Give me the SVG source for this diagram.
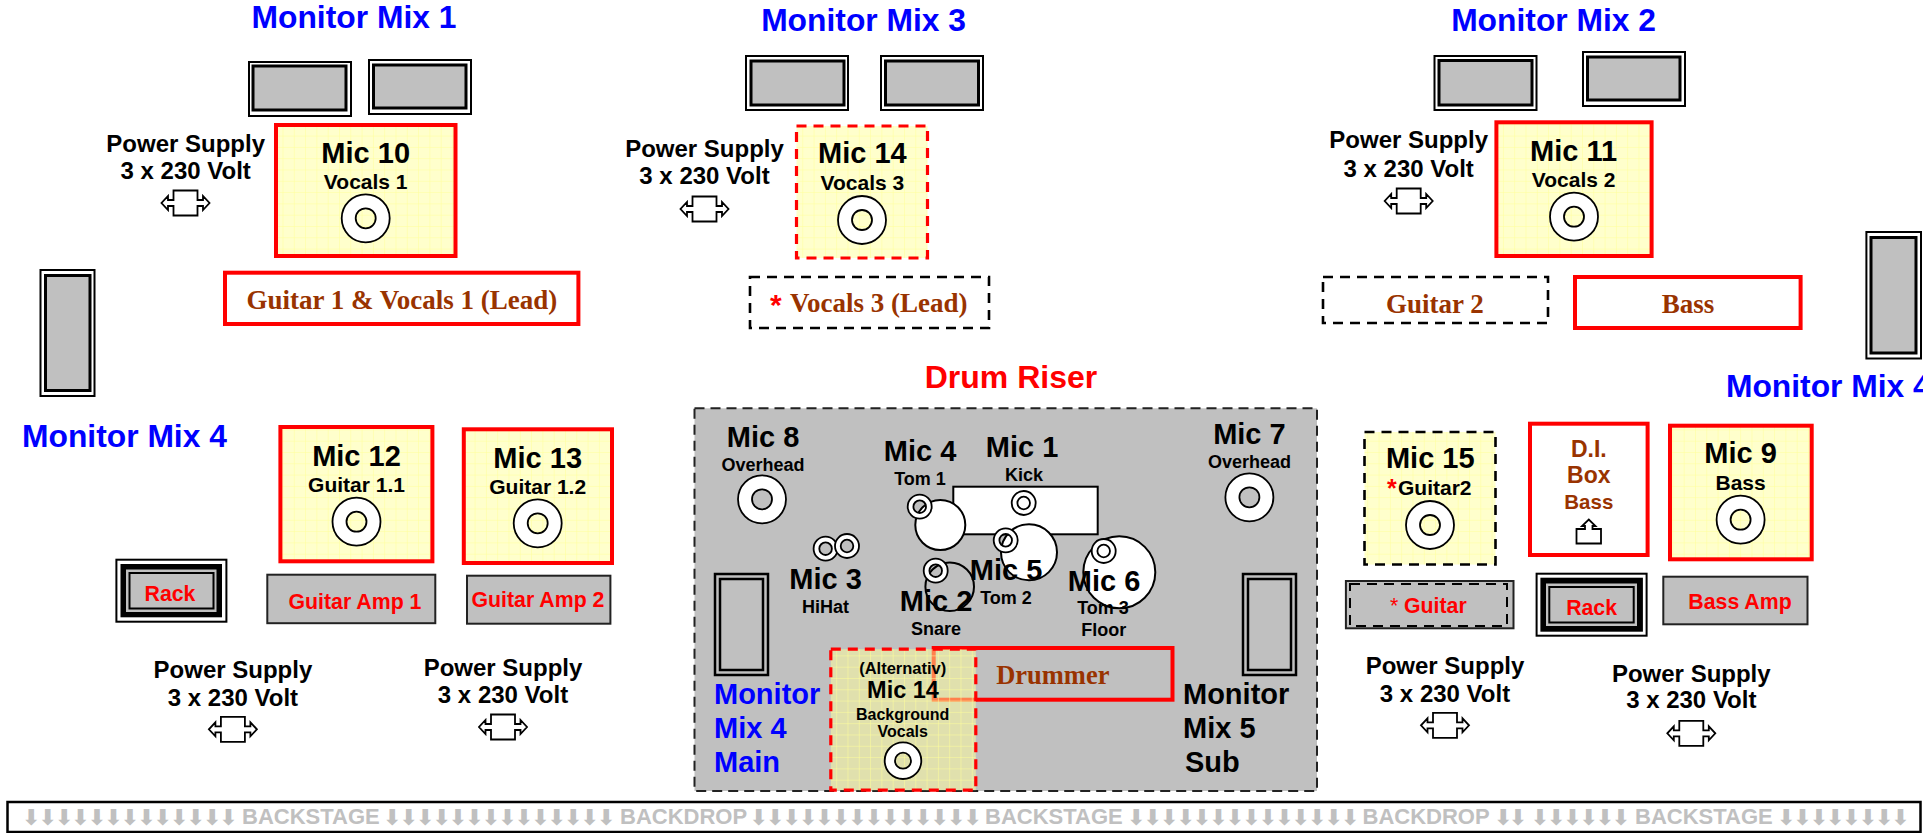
<svg xmlns="http://www.w3.org/2000/svg" xmlns:xlink="http://www.w3.org/1999/xlink" width="1923" height="833" viewBox="0 0 1923 833">
<style>
text{font-family:"Liberation Sans",Arial,sans-serif;font-weight:bold;text-anchor:middle;fill:#000}
.h{font-size:31.800px;fill:#0000ff}
.hr{font-size:32px;fill:#ff0000}
.ml{font-size:29px}
.sub{font-size:21px}
.sm{font-size:18px}
.ps{font-size:24px}
.red{font-size:21.300px;fill:#ff0000}
.st{font-family:"Liberation Serif","Times New Roman",serif;font-size:27px;fill:#993300}
.br{fill:#993300}
.l{text-anchor:start}
.bk{font-size:22px;fill:#c0c0c0;text-anchor:start}
.ar{font-family:"DejaVu Sans",sans-serif;font-size:22px;fill:#c0c0c0;text-anchor:start}
.spk{fill:#fff;stroke:#000;stroke-width:2}
.spi{fill:#c0c0c0;stroke:#000;stroke-width:3}
.ybox{fill:url(#grid);stroke:#ff0000;stroke-width:4}
.ydash{fill:url(#grid);stroke:#ff0000;stroke-width:3.2;stroke-dasharray:10 7}
.kdash{fill:none;stroke:#000;stroke-width:2.6;stroke-dasharray:10 7}
.rbox{fill:#fff;stroke:#ff0000;stroke-width:4}
.amp{fill:#c0c0c0;stroke:#222;stroke-width:2}
.ico{fill:#fff;stroke:#000;stroke-width:1.800}
.drum{fill:#fff;stroke:#000;stroke-width:2}
</style>
<defs>
<pattern id="grid" width="11.3" height="11.3" patternUnits="userSpaceOnUse">
<rect width="11.3" height="11.3" fill="#ffffcc"/>
<path d="M0 0H11.3M0 0V11.3" stroke="#ffff99" stroke-width="1" fill="none"/>
</pattern>
<pattern id="gridO" width="11.3" height="11.3" patternUnits="userSpaceOnUse">
<path d="M0 0H11.3M0 0V11.3" stroke="#ffff99" stroke-width="1" fill="none"/>
</pattern>
<path id="mic" class="ico" fill-rule="evenodd" d="M-24 0A24 24 0 1 0 24 0A24 24 0 1 0 -24 0ZM-10 0A10 10 0 1 0 10 0A10 10 0 1 0 -10 0Z"/>
<path id="mics" class="ico" fill-rule="evenodd" d="M-12 0A12 12 0 1 0 12 0A12 12 0 1 0 -12 0ZM-6.3 0A6.3 6.3 0 1 0 6.3 0A6.3 6.3 0 1 0 -6.3 0Z"/>
<path id="mica" class="ico" fill-rule="evenodd" d="M-18.3 0A18.3 18.3 0 1 0 18.3 0A18.3 18.3 0 1 0 -18.3 0ZM-8 0A8 8 0 1 0 8 0A8 8 0 1 0 -8 0Z"/>
<path id="pw" class="ico" d="M-12 -12.5H12V-3H17.500V-7L24 0L17.500 7V3H12V12.5H-12V3H-17.500V7L-24 0L-17.500 -7V-3H-12Z"/>
</defs>
<rect width="1923" height="833" fill="#fff"/>

<g id="labels-top">
<text class="h" x="354" y="28">Monitor Mix 1</text>
<text class="h" x="863.6" y="30.7">Monitor Mix 3</text>
<text class="h" x="1553.6" y="30.7">Monitor Mix 2</text>
<text class="h l" x="1725.9" y="397.3">Monitor Mix 4</text>
<text class="h l" x="22" y="446.7">Monitor Mix 4</text>
<text class="hr" x="1011" y="388">Drum Riser</text>
</g>

<g id="speakers">
<rect class="spk" x="249" y="62" width="102" height="54"/><rect class="spi" x="253" y="66" width="93" height="44"/>
<rect class="spk" x="369" y="60" width="102" height="54"/><rect class="spi" x="373.5" y="65" width="92.5" height="43"/>
<rect class="spk" x="746" y="56" width="102" height="54"/><rect class="spi" x="751" y="61" width="93" height="44"/>
<rect class="spk" x="881" y="56" width="102" height="54"/><rect class="spi" x="885.500" y="61" width="93" height="44"/>
<rect class="spk" x="1434.500" y="56" width="102" height="54"/><rect class="spi" x="1439" y="60.500" width="93" height="44.500"/>
<rect class="spk" x="1583" y="52" width="102" height="54"/><rect class="spi" x="1587.500" y="57" width="92.500" height="43"/>
<rect class="spk" x="40.500" y="270" width="54" height="126"/><rect class="spi" x="45.500" y="275.500" width="44.500" height="115"/>
<rect class="spk" x="1866.400" y="232" width="54.600" height="126.500"/><rect class="spi" x="1871" y="237.500" width="45" height="115.500"/>
</g>

<g id="power-supplies">
<g><text class="ps" x="185.700" y="152">Power Supply</text><text class="ps" x="185.700" y="179">3 x 230 Volt</text><use href="#pw" x="185.500" y="203"/></g>
<g><text class="ps" x="704.500" y="156.700">Power Supply</text><text class="ps" x="704.500" y="184.300">3 x 230 Volt</text><use href="#pw" x="704.500" y="209"/></g>
<g><text class="ps" x="1408.700" y="148.300">Power Supply</text><text class="ps" x="1408.700" y="176.700">3 x 230 Volt</text><use href="#pw" x="1408.700" y="201"/></g>
<g><text class="ps" x="232.900" y="678.300">Power Supply</text><text class="ps" x="232.900" y="705.700">3 x 230 Volt</text><use href="#pw" x="232.900" y="729.300"/></g>
<g><text class="ps" x="503" y="676">Power Supply</text><text class="ps" x="503" y="702.700">3 x 230 Volt</text><use href="#pw" x="503" y="727"/></g>
<g><text class="ps" x="1445" y="674">Power Supply</text><text class="ps" x="1445" y="701.700">3 x 230 Volt</text><use href="#pw" x="1445" y="725.300"/></g>
<g><text class="ps" x="1691.300" y="681.700">Power Supply</text><text class="ps" x="1691.300" y="708.300">3 x 230 Volt</text><use href="#pw" x="1691.300" y="733.300"/></g>
</g>

<g id="mic10"><rect class="ybox" x="276" y="125" width="179.500" height="131"/><text class="ml" x="365.700" y="162.700">Mic 10</text><text class="sub" x="365.700" y="189">Vocals 1</text><use href="#mic" x="365.700" y="218.300"/></g>
<g id="mic14"><rect class="ydash" x="796.500" y="126" width="131" height="132"/><text class="ml" x="862.400" y="163">Mic 14</text><text class="sub" x="862.400" y="190">Vocals 3</text><use href="#mic" x="862" y="220"/></g>
<g id="mic11"><rect class="ybox" x="1496.400" y="122.300" width="155.200" height="133.700"/><text class="ml" x="1573.600" y="160.700">Mic 11</text><text class="sub" x="1573.600" y="187.300">Vocals 2</text><use href="#mic" x="1574" y="216.700"/></g>
<g id="mic12"><rect class="ybox" x="280.400" y="427" width="152" height="134.300"/><text class="ml" x="356.500" y="465.700">Mic 12</text><text class="sub" x="356.500" y="492.300">Guitar 1.1</text><use href="#mic" x="356.500" y="521.700"/></g>
<g id="mic13"><rect class="ybox" x="463.800" y="429.300" width="148.200" height="133.700"/><text class="ml" x="537.700" y="467.700">Mic 13</text><text class="sub" x="537.700" y="494.300">Guitar 1.2</text><use href="#mic" x="537.700" y="523.300"/></g>
<g id="mic15"><rect x="1364.500" y="432" width="131" height="132.500" fill="url(#grid)"/><rect class="kdash" x="1364.500" y="432" width="131" height="132.500"/><text class="ml" x="1430.300" y="468.300">Mic 15</text><text class="sub l" x="1398" y="495">Guitar2</text><text class="l" x="1387" y="497" style="fill:#ff0000;font-size:25px">*</text><use href="#mic" x="1430" y="525"/></g>
<g id="mic9"><rect class="ybox" x="1670" y="425.700" width="141.700" height="133.600"/><text class="ml" x="1740.600" y="463.300">Mic 9</text><text class="sub" x="1740.600" y="490">Bass</text><use href="#mic" x="1740.600" y="519.700"/></g>

<g id="guitar1-pos"><rect class="rbox" x="225" y="272.700" width="353.400" height="51.300"/><text class="st" x="401.800" y="309">Guitar 1 &amp; Vocals 1 (Lead)</text></g>
<g id="vocals3-pos"><rect class="kdash" x="750" y="277" width="239" height="51"/><text class="st l" x="790" y="311.700">Vocals 3 (Lead)</text><text class="l" x="770" y="315" style="fill:#ff0000;font-size:30px">*</text></g>
<g id="guitar2-pos"><rect class="kdash" x="1323" y="277" width="225" height="46"/><text class="st" x="1434.800" y="312.700">Guitar 2</text></g>
<g id="bass-pos"><rect class="rbox" x="1575" y="277" width="225.600" height="51"/><text class="st" x="1688" y="312.700">Bass</text></g>

<g id="rack-left"><rect class="spk" x="116.400" y="559.700" width="110" height="62"/><rect x="120.500" y="564" width="101.500" height="53.300" fill="#000"/><rect x="126" y="569.500" width="90.500" height="42.500" fill="#c0c0c0"/><rect x="129.500" y="573" width="84" height="35.500" fill="#c0c0c0" stroke="#000" stroke-width="2"/><text class="red" x="170" y="601">Rack</text></g>
<g id="amp1"><rect class="amp" x="267.300" y="574.700" width="168" height="48.500"/><text class="red" x="355" y="609">Guitar Amp 1</text></g>
<g id="amp2"><rect class="amp" x="467" y="575.700" width="143.400" height="48"/><text class="red" x="538" y="607.300">Guitar Amp 2</text></g>

<g id="riser">
<rect x="694.500" y="408.300" width="622.500" height="382.700" fill="#c0c0c0" stroke="#222" stroke-width="2" stroke-dasharray="10 6"/>
<g id="mic8"><text class="ml" x="763" y="446.700">Mic 8</text><text class="sm" x="763" y="471">Overhead</text><use href="#mic" x="762" y="499.300"/></g>
<g id="mic7"><text class="ml" x="1249.400" y="444.300">Mic 7</text><text class="sm" x="1249.400" y="468.300">Overhead</text><use href="#mic" x="1249.400" y="497.300"/></g>
<g id="kick"><rect class="drum" x="953.300" y="486.700" width="144.400" height="47.600"/><use href="#mics" x="1023.700" y="503"/><text class="ml" x="1022" y="456.700">Mic 1</text><text class="sm" x="1024" y="481.300">Kick</text></g>
<g id="tom1"><circle class="drum" cx="940.300" cy="525" r="25"/><use href="#mics" x="919.700" y="506.700"/><text class="ml" x="920" y="460.700">Mic 4</text><text class="sm" x="920" y="484.700">Tom 1</text></g>
<g id="tom2"><circle class="drum" cx="1029" cy="552.300" r="28"/><use href="#mics" x="1005.700" y="540.300"/><text class="ml" x="1006" y="580">Mic 5</text><text class="sm" x="1006" y="604.300">Tom 2</text></g>
<g id="snare"><circle cx="949.700" cy="586.700" r="24.300" fill="none" stroke="#000" stroke-width="2"/><use href="#mics" x="935.700" y="570.700"/><text class="ml" x="936" y="610.700">Mic 2</text><text class="sm" x="936" y="635">Snare</text></g>
<g id="floor"><circle class="drum" cx="1119.300" cy="572.300" r="36"/><use href="#mics" x="1103.700" y="551"/><text class="ml" x="1104" y="590.700">Mic 6</text><text class="sm" x="1103" y="614.300">Tom 3</text><text class="sm" x="1103.800" y="636">Floor</text></g>
<g id="hihat"><use href="#mics" x="825.600" y="548.700"/><use href="#mics" x="847" y="546"/><text class="ml" x="825.600" y="588.700">Mic 3</text><text class="sm" x="825.600" y="612.700">HiHat</text></g>
<g id="mon-main"><rect x="715" y="574" width="53" height="101" fill="#c0c0c0" stroke="#000" stroke-width="2.500"/><rect x="720" y="579" width="43" height="91" fill="#c0c0c0" stroke="#000" stroke-width="2.500"/><text class="ml l" x="714" y="704.300" style="fill:#0000ff">Monitor</text><text class="ml l" x="714" y="737.700" style="fill:#0000ff">Mix 4</text><text class="ml l" x="714" y="771.700" style="fill:#0000ff">Main</text></g>
<g id="mon-sub"><rect x="1243" y="574" width="53" height="101" fill="#c0c0c0" stroke="#000" stroke-width="2.500"/><rect x="1248" y="579" width="43" height="91" fill="#c0c0c0" stroke="#000" stroke-width="2.500"/><text class="ml l" x="1183" y="704.300">Monitor</text><text class="ml l" x="1183" y="737.700">Mix 5</text><text class="ml l" x="1185" y="771.700">Sub</text></g>
<g id="drummer"><rect x="933.700" y="648" width="238.800" height="51.700" fill="none" stroke="#ff0000" stroke-width="4"/><text class="st" x="1052.800" y="684" style="font-size:26.500px">Drummer</text></g>
<g id="mic14-alt"><rect x="830.800" y="649.200" width="145" height="141" fill="#ffff99" fill-opacity="0.5"/><rect x="830.800" y="649.200" width="145" height="141" fill="url(#gridO)"/><rect x="830.800" y="649.200" width="145" height="141" fill="none" stroke="#ff0000" stroke-width="3.200" stroke-dasharray="10 7"/><text x="902.700" y="674" style="font-size:16.500px">(Alternativ)</text><text x="903" y="698.300" style="font-size:23.500px">Mic 14</text><text x="902.700" y="720" style="font-size:16px">Background</text><text x="902.700" y="737.300" style="font-size:16px">Vocals</text><use href="#mica" x="903" y="760.700"/></g>
</g>

<g id="guitar-amp"><rect class="amp" x="1345.900" y="581" width="167.600" height="47.300"/><rect class="kdash" x="1350" y="584" width="157" height="42" style="stroke-width:2"/><text class="red l" x="1390" y="612.700" style="font-weight:normal">*</text><text class="red l" x="1404" y="612.700">Guitar</text></g>
<g id="rack-right"><rect class="spk" x="1536.600" y="573.700" width="110" height="62"/><rect x="1540.400" y="577.700" width="102.500" height="54" fill="#000"/><rect x="1546" y="583.500" width="91" height="42.500" fill="#c0c0c0"/><rect x="1549.300" y="587" width="84.400" height="35.500" fill="#c0c0c0" stroke="#000" stroke-width="2"/><text class="red" x="1591.600" y="615">Rack</text></g>
<g id="bass-amp"><rect class="amp" x="1663.300" y="576.700" width="144.200" height="47.600"/><text class="red" x="1740" y="609">Bass Amp</text></g>
<g id="di-box"><rect class="rbox" x="1530" y="423.700" width="117.600" height="131.300"/><text class="br" x="1588.800" y="456.700" style="font-size:23px">D.I.</text><text class="br" x="1588.800" y="483.300" style="font-size:23px">Box</text><text class="br" x="1588.800" y="509" style="font-size:20.500px">Bass</text><path class="ico" d="M1576.500 543.500V529H1585V526H1582L1588.800 519.500L1595.500 526H1592.500V529H1601V543.500Z"/></g>

<g id="backstage">
<rect x="7.500" y="802" width="1913" height="30" fill="#fff" stroke="#000" stroke-width="2.500"/>
<text class="ar" x="22" y="825" textLength="215.800" lengthAdjust="spacing">⬇⬇⬇⬇⬇⬇⬇⬇⬇⬇⬇⬇⬇</text>
<text class="bk" x="242" y="824">BACKSTAGE</text>
<text class="ar" x="383" y="825" textLength="232.400" lengthAdjust="spacing">⬇⬇⬇⬇⬇⬇⬇⬇⬇⬇⬇⬇⬇⬇</text>
<text class="bk" x="620" y="824">BACKDROP</text>
<text class="ar" x="749.500" y="825" textLength="232.400" lengthAdjust="spacing">⬇⬇⬇⬇⬇⬇⬇⬇⬇⬇⬇⬇⬇⬇</text>
<text class="bk" x="985" y="824">BACKSTAGE</text>
<text class="ar" x="1127" y="825" textLength="232.400" lengthAdjust="spacing">⬇⬇⬇⬇⬇⬇⬇⬇⬇⬇⬇⬇⬇⬇</text>
<text class="bk" x="1362.500" y="824">BACKDROP</text>
<text class="ar" x="1494" y="825" textLength="33.200" lengthAdjust="spacing">⬇⬇</text>
<text class="ar" x="1530.700" y="825" textLength="99.600" lengthAdjust="spacing">⬇⬇⬇⬇⬇⬇</text>
<text class="bk" x="1635" y="824">BACKSTAGE</text>
<text class="ar" x="1777" y="825" textLength="132.800" lengthAdjust="spacing">⬇⬇⬇⬇⬇⬇⬇⬇</text>
</g>
</svg>
